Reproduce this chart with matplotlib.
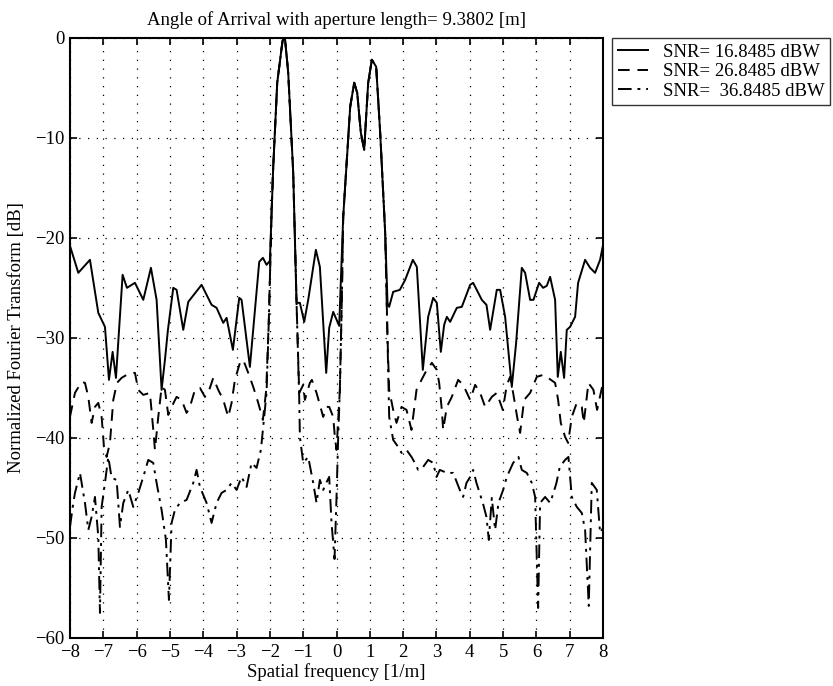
import numpy as np
import matplotlib
matplotlib.use("Agg")
import matplotlib.pyplot as plt

plt.rcParams['font.family'] = ['Liberation Serif', 'DejaVu Serif']
plt.rcParams['font.size'] = 13.5

# spatial frequency [1/m] and normalized FT [dB]
f_16 = [-8.0, -7.75, -7.4, -7.15, -6.95, -6.83, -6.72, -6.62, -6.42, -6.29, -6.05, -5.8,
        -5.57, -5.4, -5.25, -5.15, -5.06, -4.9, -4.8, -4.6, -4.45, -4.05, -3.75, -3.6,
        -3.4, -3.3, -3.11, -2.92, -2.85, -2.6, -2.32, -2.21, -2.1, -2.0, -1.9, -1.78,
        -1.62, -1.55, -1.45, -1.3, -1.2, -1.1, -0.97, -0.85, -0.62, -0.5, -0.31, -0.22,
        -0.1, 0.08, 0.2, 0.31, 0.41, 0.53, 0.62, 0.73, 0.83, 0.95, 1.06, 1.19, 1.31,
        1.46, 1.53, 1.58, 1.7, 1.9, 2.06, 2.29, 2.41, 2.59, 2.75, 2.9, 3.01, 3.13, 3.23,
        3.31, 3.41, 3.61, 3.76, 4.01, 4.1, 4.36, 4.5, 4.61, 4.81, 4.91, 5.06, 5.26, 5.39,
        5.56, 5.66, 5.81, 5.91, 6.08, 6.2, 6.31, 6.41, 6.56, 6.64, 6.73, 6.83, 6.91,
        7.01, 7.16, 7.25, 7.46, 7.61, 7.76, 7.91, 8.0]
db_16 = [-20.8, -23.5, -22.2, -27.5, -28.9, -34.2, -31.4, -34.0, -23.7, -25.0, -24.5, -26.2,
         -23.0, -26.2, -35.2, -32.2, -29.2, -25.0, -25.2, -29.2, -26.4, -24.7, -26.7, -27.0,
         -28.5, -28.0, -31.2, -26.0, -26.2, -32.9, -22.4, -22.0, -22.7, -22.3, -12.9, -4.5,
         -0.3, 0.0, -3.5, -13.5, -26.5, -26.5, -28.4, -26.2, -21.2, -22.9, -33.5, -29.0,
         -27.4, -28.8, -17.9, -12.2, -6.9, -4.5, -5.5, -9.5, -11.2, -4.5, -2.2, -2.9, -9.5,
         -19.5, -26.5, -26.9, -25.4, -25.2, -24.2, -22.2, -22.9, -33.2, -27.9, -26.0, -26.5,
         -31.4, -28.7, -27.9, -28.4, -27.0, -26.9, -24.7, -24.5, -26.2, -26.7, -29.2, -25.2,
         -25.2, -27.9, -34.9, -30.5, -23.0, -23.5, -26.2, -26.2, -24.5, -25.0, -24.8, -23.9,
         -26.2, -33.9, -31.4, -34.0, -29.2, -28.9, -27.9, -24.5, -22.2, -23.0, -23.5, -22.2,
         -20.7]

f_26 = [-8.0, -7.85, -7.65, -7.55, -7.45, -7.35, -7.25, -7.15, -7.05, -6.98, -6.9, -6.8,
        -6.7, -6.59, -6.45, -6.2, -6.05, -5.95, -5.8, -5.6, -5.5, -5.45, -5.35, -5.25,
        -5.15, -5.05, -4.95, -4.8, -4.65, -4.5, -4.4, -4.25, -4.1, -3.95, -3.85, -3.7,
        -3.55, -3.4, -3.25, -3.15, -3.05, -2.9, -2.8, -2.65, -2.5, -2.35, -2.21, -2.11,
        -2.03, -1.95, -1.9, -1.78, -1.62, -1.55, -1.45, -1.3, -1.2, -1.12, -1.0, -0.95,
        -0.8, -0.74, -0.6, -0.4, -0.3, -0.22, -0.1, -0.05, 0.0, 0.1, 0.16, 0.2, 0.31,
        0.41, 0.53, 0.62, 0.73, 0.83, 0.95, 1.06, 1.19, 1.31, 1.46, 1.53, 1.58, 1.7, 1.8,
        1.95, 2.1, 2.25, 2.4, 2.55, 2.66, 2.86, 3.01, 3.08, 3.16, 3.2, 3.31, 3.46, 3.65,
        3.8, 4.01, 4.16, 4.31, 4.46, 4.66, 4.81, 4.99, 5.11, 5.21, 5.3, 5.42, 5.51, 5.63,
        5.81, 6.01, 6.2, 6.35, 6.56, 6.65, 6.73, 6.86, 6.95, 7.06, 7.21, 7.36, 7.42, 7.56,
        7.71, 7.82, 7.97, 8.0]
db_26 = [-37.9, -35.5, -34.4, -34.5, -35.9, -38.5, -36.9, -36.5, -37.9, -40.9, -41.9, -40.5,
         -36.2, -34.5, -34.0, -33.5, -33.5, -35.2, -35.7, -35.5, -39.2, -41.2, -37.9, -34.9,
         -35.2, -37.7, -36.9, -35.9, -36.2, -37.5, -36.9, -35.2, -35.0, -35.9, -35.5, -34.0,
         -35.2, -36.2, -37.9, -36.5, -34.2, -32.5, -32.2, -33.5, -34.9, -36.5, -38.2, -35.2,
         -28.0, -17.5, -12.9, -4.5, -0.3, 0.0, -3.5, -13.5, -26.5, -35.5, -34.7, -36.2,
         -34.5, -34.2, -35.5, -37.9, -36.9, -36.9, -37.9, -39.9, -41.2, -35.2, -26.0, -17.9,
         -12.2, -6.9, -4.5, -5.5, -9.5, -11.2, -4.5, -2.2, -2.9, -9.5, -19.5, -30.0, -35.2,
         -37.2, -38.5, -36.9, -37.2, -39.2, -35.2, -34.2, -33.5, -32.5, -33.2, -34.5, -37.2,
         -39.2, -36.9, -35.9, -34.2, -34.7, -36.2, -34.7, -35.5, -36.9, -35.9, -35.5, -37.2,
         -34.7, -33.9, -35.5, -37.9, -39.5, -36.2, -35.5, -33.9, -33.7, -34.0, -34.5, -36.2,
         -38.5, -39.9, -40.5, -37.9, -36.5, -36.9, -38.5, -34.5, -35.2, -37.2, -34.9, -35.5]

f_36 = [-8.0, -7.9, -7.85, -7.7, -7.55, -7.45, -7.35, -7.25, -7.15, -7.1, -7.05, -6.95,
        -6.85, -6.75, -6.6, -6.5, -6.4, -6.25, -6.1, -5.95, -5.8, -5.65, -5.5, -5.4,
        -5.25, -5.12, -5.03, -4.95, -4.85, -4.7, -4.5, -4.3, -4.2, -4.1, -3.9, -3.75,
        -3.6, -3.45, -3.3, -3.15, -3.0, -2.85, -2.7, -2.55, -2.4, -2.27, -2.19, -2.1,
        -2.03, -1.95, -1.9, -1.78, -1.62, -1.55, -1.45, -1.3, -1.2, -1.12, -1.1, -1.0,
        -0.85, -0.7, -0.6, -0.5, -0.4, -0.31, -0.22, -0.15, -0.06, 0.0, 0.05, 0.1, 0.16,
        0.2, 0.31, 0.41, 0.53, 0.62, 0.73, 0.83, 0.95, 1.06, 1.19, 1.31, 1.46, 1.53, 1.58,
        1.7, 1.85, 1.95, 2.1, 2.25, 2.35, 2.45, 2.6, 2.75, 2.9, 3.0, 3.1, 3.31, 3.5, 3.7,
        3.8, 3.9, 4.01, 4.1, 4.2, 4.39, 4.5, 4.57, 4.66, 4.76, 4.86, 5.0, 5.11, 5.3, 5.46,
        5.56, 5.71, 5.86, 5.96, 6.05, 6.11, 6.26, 6.41, 6.51, 6.6, 6.7, 6.86, 6.96, 7.06,
        7.21, 7.36, 7.46, 7.57, 7.66, 7.81, 7.91, 8.0]
db_36 = [-48.9, -46.5, -45.5, -43.5, -46.5, -49.2, -47.9, -45.9, -49.9, -57.5, -46.9, -44.5,
         -41.9, -44.0, -44.2, -48.9, -46.5, -45.2, -46.9, -45.5, -43.9, -42.2, -42.5, -44.5,
         -47.2, -50.2, -56.2, -48.5, -47.2, -46.5, -46.2, -44.5, -43.2, -44.9, -46.5, -48.5,
         -46.5, -45.5, -45.2, -44.5, -45.2, -43.9, -44.9, -42.5, -43.0, -41.2, -38.5, -35.5,
         -28.0, -17.5, -12.9, -4.5, -0.3, 0.0, -3.5, -13.5, -26.5, -36.0, -39.9, -42.5,
         -41.9, -44.5, -46.5, -44.2, -45.2, -44.5, -43.9, -48.5, -52.1, -45.9, -39.9, -35.2,
         -26.0, -17.9, -12.2, -6.9, -4.5, -5.5, -9.5, -11.2, -4.5, -2.2, -2.9, -9.5, -19.5,
         -30.0, -37.9, -40.2, -40.9, -41.5, -41.2, -41.9, -42.5, -43.2, -42.9, -42.2, -42.5,
         -43.9, -43.2, -43.5, -43.5, -45.2, -45.9, -44.5, -43.9, -43.2, -44.5, -46.5, -47.9,
         -50.2, -46.0, -49.2, -46.5, -45.2, -43.9, -42.5, -41.9, -43.2, -43.5, -44.5, -45.9,
         -57.0, -46.5, -45.9, -46.5, -45.5, -44.5, -42.9, -42.2, -41.9, -45.9, -46.9, -47.5,
         -49.2, -56.8, -44.5, -45.2, -49.5, -49.0]

labels = ['SNR= 16.8485 dBW', 'SNR= 26.8485 dBW', 'SNR=  36.8485 dBW']

fig = plt.figure(figsize=(8.33, 6.86), dpi=100)
ax = fig.add_axes([0.084, 0.070, 0.640, 0.875])

l1, = ax.plot(f_16, db_16, color='k', lw=1.4, ls='-')
l2, = ax.plot(f_26, db_26, color='k', lw=1.4, ls=(0, (6, 4)))
l3, = ax.plot(f_36, db_36, color='k', lw=1.4, ls=(0, (7, 3, 1.5, 3)))

ax.set_xlim(-8, 8)
ax.set_ylim(-60, 0)
ax.set_xticks(np.arange(-8, 9, 1))
ax.set_yticks(np.arange(-60, 1, 10))
ax.grid(True, color='k', ls=(0, (1, 6)), lw=0.9)
ax.tick_params(direction='in', top=True, right=True, length=5, width=1.2, pad=4)
for s in ax.spines.values():
    s.set_linewidth(1.5)

ax.set_title('Angle of Arrival with aperture length= 9.3802 [m]', fontsize=13.5, pad=9)
ax.set_xlabel('Spatial frequency [1/m]', labelpad=2)
ax.set_ylabel('Normalized Fourier Transform [dB]', labelpad=7)

leg = fig.legend([l1, l2, l3], labels, loc='upper left',
                 bbox_to_anchor=(612 / 833, 1 - 38 / 686), frameon=True,
                 fancybox=False, handlelength=1.6, borderpad=0.3, labelspacing=0.12,
                 handletextpad=0.8, borderaxespad=0)
leg.get_frame().set_edgecolor('k')
leg.get_frame().set_linewidth(1.0)

fig.savefig('out.png', dpi=100)
